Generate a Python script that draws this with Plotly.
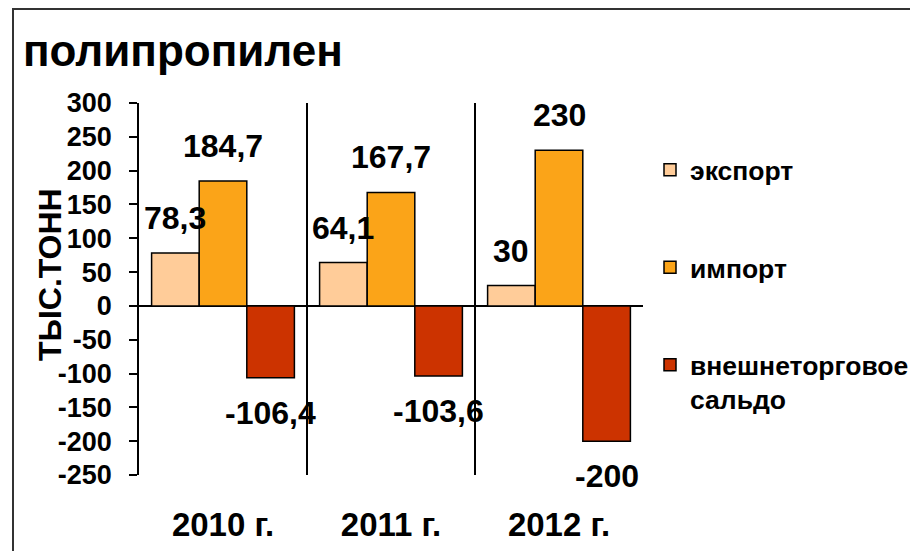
import plotly.graph_objects as go

categories = ["2010 г.", "2011 г.", "2012 г."]
series_names = ["экспорт", "импорт", "внешнеторговое<br>сальдо"]
export_vals = [78.3, 64.1, 30]
import_vals = [184.7, 167.7, 230]
saldo_vals = [-106.4, -103.6, -200]
y_ticks = [300, 250, 200, 150, 100, 50, 0, -50, -100, -150, -200, -250]
y_tick_labels = ["300", "250", "200", "150", "100", "50", "0",
                 "-50", "-100", "-150", "-200", "-250"]
colors = ["#FFCC99", "#FBA418", "#CC3300"]

# page has an 8px body margin; figure sized to fit the window
OFF = 8
W, H = 918 - OFF, 551 - OFF
ML, MR, MT, MB = 131, 275, 95, 76
BARGAP = 0.15
FONT = "Liberation Sans, Arial, sans-serif"

def fmt(v):
    return ("%g" % v).replace(".", ",")

fig = go.Figure()
all_series = [export_vals, import_vals, saldo_vals]
for name, vals, col in zip(series_names, all_series, colors):
    fig.add_trace(go.Bar(
        x=categories, y=vals, name=name, legendgroup=name,
        marker=dict(color=col, line=dict(color="black", width=1.5)),
    ))

# data labels
n = len(all_series)
bw = (1 - BARGAP) / n
for si, vals in enumerate(all_series):
    off = (si - (n - 1) / 2) * bw
    for ci, v in enumerate(vals):
        fig.add_annotation(
            x=ci + off, y=v, text=fmt(v), showarrow=False,
            yshift=35 if v >= 0 else -35,
            font=dict(family=FONT, size=32, color="black", weight="bold"),
        )

pw = W - ML - MR
ph = H - MT - MB

def px_x(p):  # page pixel -> paper x
    return (p - OFF - ML) / pw

def px_y(p):  # page pixel -> paper y
    return (H - MB - (p - OFF)) / ph

# outer frame
fig.add_shape(
    type="rect", xref="paper", yref="paper",
    x0=px_x(13), x1=px_x(940), y0=px_y(580), y1=px_y(9),
    line=dict(color="#333333", width=2), fillcolor="rgba(0,0,0,0)", layer="below",
)

# y axis title
fig.add_annotation(
    xref="paper", yref="paper", x=px_x(50), y=px_y(275),
    text="ТЫС.ТОНН", textangle=-90, showarrow=False,
    xanchor="center", yanchor="middle",
    font=dict(family=FONT, size=32, color="black", weight="bold"),
)

fig.update_layout(
    width=W, height=H,
    margin=dict(l=ML, r=MR, t=MT, b=MB, autoexpand=False),
    paper_bgcolor="white", plot_bgcolor="white",
    barmode="group", bargap=BARGAP, bargroupgap=0,
    font=dict(family=FONT, color="black", weight="bold"),
    title=dict(
        text="полипропилен", x=(23 - OFF) / W, xref="container", xanchor="left",
        y=1 - (51 - OFF) / H, yref="container", yanchor="middle",
        font=dict(family=FONT, size=44, color="black", weight="bold"),
    ),
    legend=dict(
        x=px_x(650), xanchor="left", y=px_y(146), yanchor="top",
        font=dict(family=FONT, size=26.5, color="black", weight="bold"),
        tracegroupgap=60, bgcolor="rgba(0,0,0,0)", valign="top",
    ),
    showlegend=True,
)
fig.update_xaxes(
    type="category", showline=False, ticks="", tickson="boundaries",
    showgrid=True, gridcolor="black", gridwidth=1.5,
    tickfont=dict(family=FONT, size=33, color="black", weight="bold"),
    ticklabelstandoff=27, zeroline=False,
)
fig.update_yaxes(
    range=[-250, 300], tickvals=y_ticks, ticktext=y_tick_labels, showgrid=False,
    showline=True, linecolor="black", linewidth=1.5,
    ticks="outside", ticklen=8, tickwidth=1.5, tickcolor="black",
    ticklabelstandoff=12,
    zeroline=True, zerolinecolor="black", zerolinewidth=2,
    tickfont=dict(family=FONT, size=27, color="black", weight="bold"),
)

fig.write_html("out.html")
